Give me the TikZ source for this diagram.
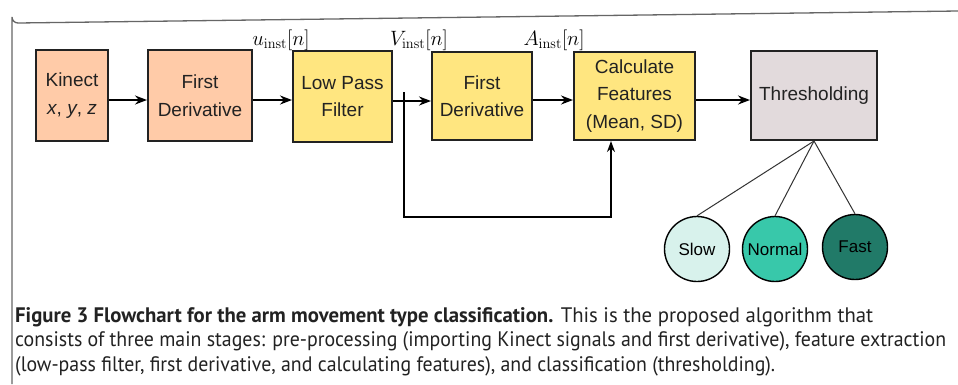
\documentclass[tikz,border=0pt]{standalone}
\usepackage[no-math]{fontspec}
\setmainfont{Liberation Sans}
\newfontfamily\capfont{PT Sans}
\usepackage{graphicx}
\usetikzlibrary{arrows.meta}
\definecolor{peach}{HTML}{FFCBA8}
\definecolor{yel}{HTML}{FFE680}
\definecolor{thr}{HTML}{E2DADC}
\definecolor{slowc}{HTML}{D8F2EC}
\definecolor{normc}{HTML}{38C8AA}
\definecolor{fastc}{HTML}{217A68}
\definecolor{txt}{HTML}{222222}
\begin{document}
\begin{tikzpicture}[x=1pt,y=-1pt,
  box/.style={draw=txt,line width=2pt,inner sep=0pt,align=center,text=txt,
    font=\fontsize{19}{27.5}\selectfont},
  circ/.style={circle,draw=black,line width=1.4pt,minimum size=65pt,inner sep=0pt,
    font=\fontsize{17}{20}\selectfont},
  arr/.style={line width=2pt,-{Stealth[length=12pt,width=9pt,inset=4pt]}},
  farr/.style={line width=1.4pt,-{Stealth[length=11pt,width=8pt,inset=3.5pt]}},
  tline/.style={line width=1pt,draw=black!80},
  lab/.style={font=\fontsize{20.5}{22}\selectfont,anchor=base},
]
\useasboundingbox (0,0) rectangle (958,384);
\fill[white] (0,0) rectangle (958,384);
% frame
\draw[line width=1.3pt,draw=black!60] (12,384) -- (12,17) arc[start angle=180,end angle=90,radius=6] -- (958,11);

% nodes
\node[box,fill=peach,minimum width=72pt,minimum height=91pt] (kin) at (72,95.5) {Kinect\\\textit{x}, \textit{y}, \textit{z}};
\node[box,fill=peach,minimum width=104pt,minimum height=91pt] (fd1) at (200,95.5) {First\\Derivative};
\node[box,fill=yel,minimum width=99pt,minimum height=91pt] (lpf) at (342.5,96.5) {Low Pass\\Filter};
\node[box,fill=yel,minimum width=100pt,minimum height=88pt] (fd2) at (482,96) {First\\Derivative};
\node[box,fill=yel,minimum width=121pt,minimum height=88pt] (cf) at (634.5,96) {Calculate\\Features\\(Mean, SD)};
\node[box,fill=thr,minimum width=126pt,minimum height=89pt] (th) at (814,95.5) {Thresholding};

\node[circ,fill=slowc] (slow) at (697,249) {Slow};
\node[circ,fill=normc] (norm) at (775,249) {Normal};
\node[circ,fill=fastc] (fast) at (855,247) {Fast};

% labels
\node[lab] (lu) at (281,45) {$u_{\mathrm{inst}}[n]$};
\node[lab] (lv) at (419,45) {$V_{\mathrm{inst}}[n]$};
\node[lab] (la) at (554,45) {$A_{\mathrm{inst}}[n]$};

% arrows
\draw[arr] ([yshift=-4.5pt]kin.east) -- ([yshift=-4.5pt]kin.east -| fd1.west);
\draw[arr] ([yshift=-4.5pt]fd1.east) -- ([yshift=-4.5pt]fd1.east -| lpf.west);
\draw[arr] ([yshift=-4.5pt]lpf.east) -- ([yshift=-4.5pt]lpf.east -| fd2.west);
\draw[arr] ([yshift=-4pt]fd2.east) -- ([yshift=-4pt]fd2.east -| cf.west);
\draw[arr] ([yshift=-4pt]cf.east) -- ([yshift=-4pt]cf.east -| th.west);

% feedback
\coordinate (br) at (404,92);
\coordinate (bl) at (404,217);
\coordinate (cin) at ([xshift=-23.5pt]cf.south);
\draw[farr] (br) -- (bl) -| (cin);

% thresholding to classes
\draw[tline] (th.south) -- (slow.north);
\draw[tline] (th.south) -- (norm.north);
\draw[tline] (th.south) -- (fast.north);

% caption
\node[anchor=base west,inner sep=0pt,text=txt] (c1) at (15,322) {\resizebox{858pt}{\height}{\capfont\fontsize{21}{24}\selectfont\textbf{Figure 3 Flowchart for the arm movement type classification.} This is the proposed algorithm that}};
\node[anchor=base west,inner sep=0pt,text=txt] (c2) at (15,346.5) {\resizebox{931pt}{\height}{\capfont\fontsize{21}{24}\selectfont consists of three main stages: pre-processing (importing Kinect signals and first derivative), feature extraction}};
\node[anchor=base west,inner sep=0pt,text=txt] (c3) at (15,371) {\resizebox{760pt}{\height}{\capfont\fontsize{21}{24}\selectfont (low-pass filter, first derivative, and calculating features), and classification (thresholding).}};
\end{tikzpicture}
\end{document}
